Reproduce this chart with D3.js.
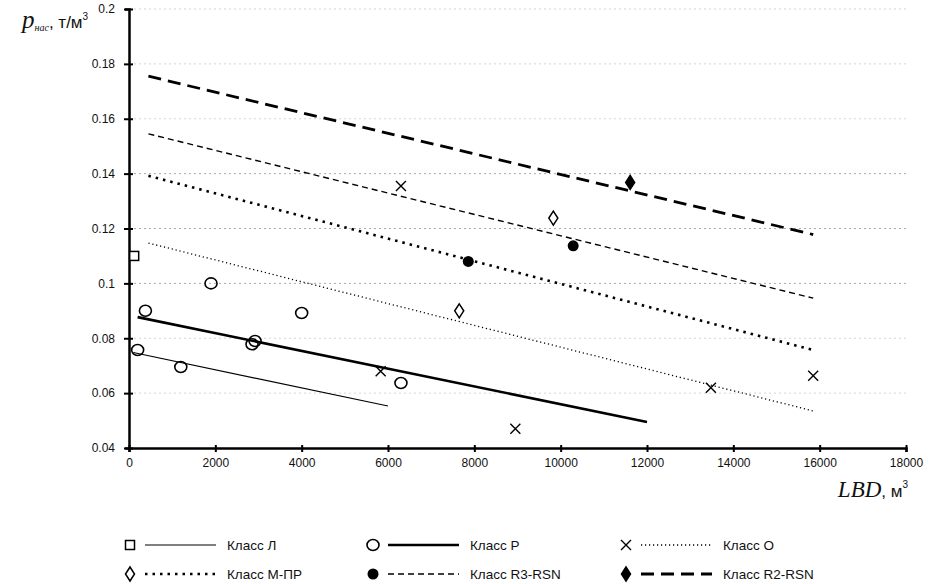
<!DOCTYPE html>
<html>
<head>
<meta charset="utf-8">
<script src="https://cdn.jsdelivr.net/npm/d3@7"></script>
<style>
  body { margin: 0; background: #fff; }
  svg { display: block; }
  .tick text { font-family: "Liberation Sans", Arial, sans-serif; font-size: 12px; fill: #111; }
  .legend text { font-family: "Liberation Sans", Arial, sans-serif; font-size: 13.5px; fill: #111; }
</style>
</head>
<body>
<div id="chart"></div>
<script>
// Точки измерений по классам
const classNames = ['Класс Л', 'Класс Р', 'Класс О', 'Класс М-ПР', 'Класс R3-RSN', 'Класс R2-RSN'];

const pointsL = [[120, 0.110]];
const pointsP = [[200, 0.0757], [380, 0.090], [1200, 0.0695], [1900, 0.100], [2850, 0.0778], [2920, 0.079], [4000, 0.0892], [6300, 0.0637]];
const pointsO = [[5830, 0.068], [6300, 0.1355], [8950, 0.047], [13480, 0.062], [15850, 0.0663]];
const pointsMPR = [[7650, 0.090], [9830, 0.1238]];
const pointsR3 = [[7860, 0.108], [10290, 0.1137]];
const pointsR2 = [[11610, 0.1368]];

// Линии тренда: начало и конец
const trendL = [[100, 0.0748], [6000, 0.0553]];
const trendP = [[200, 0.0877], [12000, 0.0495]];
const trendO = [[450, 0.1147], [15850, 0.0535]];
const trendMPR = [[450, 0.1392], [15850, 0.0757]];
const trendR3 = [[450, 0.1545], [15850, 0.0946]];
const trendR2 = [[450, 0.1755], [15850, 0.1178]];

const xTicks = [0, 2000, 4000, 6000, 8000, 10000, 12000, 14000, 16000, 18000];
const yTicks = [0.04, 0.06, 0.08, 0.1, 0.12, 0.14, 0.16, 0.18, 0.2];

const width = 936, height = 584;
const margin = { left: 129, right: 30, top: 9, bottom: 136 };

const svg = d3.select('#chart').append('svg')
  .attr('width', width)
  .attr('height', height);

const x = d3.scaleLinear().domain([0, 18000]).range([margin.left, 906]);
const y = d3.scaleLinear().domain([0.04, 0.2]).range([448, margin.top]);

// сетка
svg.append('g')
  .selectAll('line')
  .data(yTicks.slice(1))
  .enter()
  .append('line')
  .attr('x1', x(0))
  .attr('x2', x(18000))
  .attr('y1', d => y(d))
  .attr('y2', d => y(d))
  .style('stroke', d => [0.1, 0.12, 0.14].includes(d) ? '#aaa' : '#d4d4d4')
  .style('stroke-width', 1)
  .style('stroke-dasharray', '2,3');

// оси
const xAxis = svg.append('g')
  .attr('transform', `translate(0,${y(0.04)})`)
  .call(d3.axisBottom(x).tickValues(xTicks).tickFormat(d3.format('d')).tickSize(4).tickPadding(6));
xAxis.select('.domain').style('stroke', '#000').style('stroke-width', 2.5);
xAxis.selectAll('.tick line').attr('y1', -3).style('stroke-width', 2);

const yAxis = svg.append('g')
  .attr('transform', `translate(${x(0)},0)`)
  .call(d3.axisLeft(y).tickValues(yTicks).tickFormat(d => String(+d.toFixed(2))).tickSize(4).tickPadding(10));
yAxis.select('.domain').style('stroke', '#000').style('stroke-width', 2.5);
yAxis.selectAll('.tick line').attr('x1', -5).attr('x2', 4).style('stroke-width', 2);

// подписи осей
const yLab = svg.append('text')
  .attr('x', 22)
  .attr('y', 28)
  .style('fill', '#111');
yLab.append('tspan')
  .text('p')
  .style('font-family', '"Liberation Serif", "Times New Roman", serif')
  .style('font-style', 'italic')
  .style('font-size', '25px');
yLab.append('tspan')
  .text('нас')
  .attr('dy', 3)
  .style('font-family', '"Liberation Serif", serif')
  .style('font-style', 'italic')
  .style('font-size', '10px');
yLab.append('tspan')
  .text(', т/м')
  .attr('dy', -3)
  .style('font-family', '"Liberation Sans", Arial, sans-serif')
  .style('font-size', '17px');
yLab.append('tspan')
  .text('3')
  .attr('dy', -8)
  .style('font-family', '"Liberation Sans", Arial, sans-serif')
  .style('font-size', '10px');

const xLab = svg.append('text')
  .attr('x', 908)
  .attr('y', 497)
  .attr('text-anchor', 'end')
  .style('fill', '#111');
xLab.append('tspan')
  .text('LBD')
  .style('font-family', '"Liberation Serif", "Times New Roman", serif')
  .style('font-style', 'italic')
  .style('font-size', '23px');
xLab.append('tspan')
  .text(', м')
  .style('font-family', '"Liberation Sans", Arial, sans-serif')
  .style('font-size', '17px');
xLab.append('tspan')
  .text('3')
  .attr('dy', -9)
  .style('font-family', '"Liberation Sans", Arial, sans-serif')
  .style('font-size', '10px');

// стили линий
const lineStyles = [
  { width: 1.2, dash: null },
  { width: 2.6, dash: null },
  { width: 1.3, dash: '1.2,2.8' },
  { width: 2.6, dash: '2.5,5' },
  { width: 1.4, dash: '6,4' },
  { width: 2.8, dash: '13,7' }
];
const trends = [trendL, trendP, trendO, trendMPR, trendR3, trendR2];
const points = [pointsL, pointsP, pointsO, pointsMPR, pointsR3, pointsR2];
const markerTypes = ['square', 'circle', 'cross', 'diamond', 'dot', 'fdiamond'];

const line = d3.line().x(d => x(d[0])).y(d => y(d[1]));

trends.forEach((t, i) => {
  svg.append('path')
    .datum(t)
    .attr('d', line)
    .style('fill', 'none')
    .style('stroke', '#000')
    .style('stroke-width', lineStyles[i].width)
    .style('stroke-dasharray', lineStyles[i].dash);
});

function drawMarker(g, type, cx, cy) {
  if (type === 'square') {
    g.append('rect').attr('x', cx - 4.5).attr('y', cy - 4.5).attr('width', 9).attr('height', 9)
      .style('fill', '#fff').style('stroke', '#000').style('stroke-width', 1.5);
  } else if (type === 'circle') {
    g.append('ellipse').attr('cx', cx).attr('cy', cy).attr('rx', 6).attr('ry', 5.5)
      .style('fill', 'none').style('stroke', '#000').style('stroke-width', 1.6);
  } else if (type === 'dot') {
    g.append('circle').attr('cx', cx).attr('cy', cy).attr('r', 5.5).style('fill', '#000');
  } else if (type === 'cross') {
    g.append('path').attr('d', `M${cx - 5},${cy - 5}L${cx + 5},${cy + 5}M${cx - 5},${cy + 5}L${cx + 5},${cy - 5}`)
      .style('stroke', '#000').style('stroke-width', 1.4);
  } else {
    const filled = type === 'fdiamond';
    g.append('path').attr('d', `M${cx},${cy - 7}L${cx + 4.5},${cy}L${cx},${cy + 7}L${cx - 4.5},${cy}Z`)
      .style('fill', filled ? '#000' : '#fff').style('stroke', '#000').style('stroke-width', 1.5);
  }
}

points.forEach((pts, i) => {
  const g = svg.append('g');
  pts.forEach(p => drawMarker(g, markerTypes[i], x(p[0]), y(p[1])));
});

// легенда
const legend = svg.append('g').attr('class', 'legend');
const legendCols = [130, 373, 626];
const legendRows = [545, 574];
classNames.forEach((name, i) => {
  const cx = legendCols[i % 3];
  const cy = legendRows[Math.floor(i / 3)];
  const g = legend.append('g');
  drawMarker(g, markerTypes[i], cx, cy);
  g.append('line')
    .attr('x1', cx + 15).attr('x2', cx + 86)
    .attr('y1', cy).attr('y2', cy)
    .style('stroke', '#000')
    .style('stroke-width', lineStyles[i].width)
    .style('stroke-dasharray', lineStyles[i].dash);
  g.append('text')
    .attr('x', cx + 97)
    .attr('y', cy)
    .attr('dy', '0.35em')
    .text(name);
});
</script>
</body>
</html>
